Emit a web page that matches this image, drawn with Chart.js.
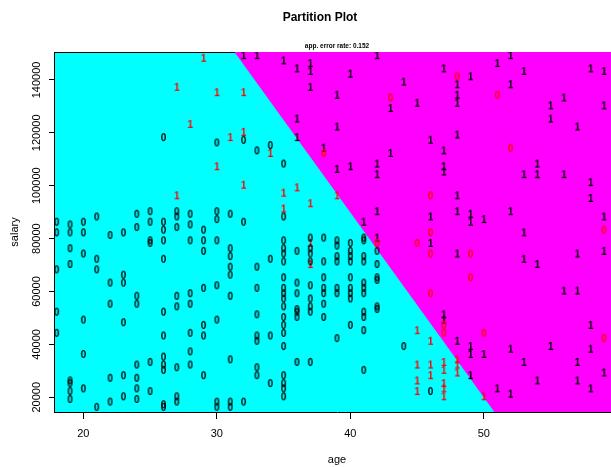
<!DOCTYPE html>
<html>
<head>
<meta charset="utf-8">
<title>Partition Plot</title>
<script src="https://cdn.jsdelivr.net/npm/chart.js@4/dist/chart.umd.min.js"></script>
<style>
html, body { margin: 0; padding: 0; background: #fff; overflow: hidden; }
canvas { display: block; }
</style>
</head>
<body>
<canvas id="myChart" width="640" height="467"></canvas>
<script>
// axis ranges and tick labels
const xMin = 17.8, xMax = 60.2;
const yMin = 14440, yMax = 150560;
const xTicks = [20, 30, 40, 50, 60];
const yTicks = [20000, 40000, 60000, 80000, 100000, 120000, 140000];

// decision boundary (age, salary); magenta side is above/right of it
const boundary = [[31.36, 150560], [50.83, 14440], [60.2, 14440]];

// class 0, correctly classified (black "0")
const zeroOk = [
    [26,118000],[30,116000],[32,117000],[33,113000],[34,115000],[35,108000],
    [18,86000],[18,82000],[18,68000],[18,52000],[18,44000],
    [19,85000],[19,82000],[19,76000],[19,70000],[19,26000],[19,25000],[19,22000],[19,19000],
    [20,86000],[20,82000],[20,74000],[20,49000],[20,36000],[20,23000],
    [21,88000],[21,72000],[21,68000],[21,16000],
    [22,81000],[22,63000],[22,55000],[22,27000],[22,18000],
    [23,82000],[23,66000],[23,63000],[23,48000],[23,28000],[23,20000],
    [24,89000],[24,84000],[24,58000],[24,55000],[24,32000],[24,27000],[24,23000],[24,19000],
    [25,90000],[25,86000],[25,79000],[25,78000],[25,33000],[25,22000],
    [26,86000],[26,83000],[26,79000],[26,72000],[26,52000],[26,43000],[26,35000],[26,32000],[26,30000],[26,17000],[26,16000],
    [27,90000],[27,88000],[27,84000],[27,58000],[27,54000],[27,31000],[27,20000],[27,18000],
    [28,89000],[28,85000],[28,79000],[28,59000],[28,55000],[28,44000],[28,37000],[28,32000],
    [29,83000],[29,79000],[29,75000],[29,61000],[29,47000],[29,43000],[29,28000],
    [30,90000],[30,87000],[30,79000],[30,62000],[30,49000],[30,18000],[30,16000],
    [31,89000],[31,76000],[31,73000],[31,69000],[31,66000],[31,58000],[31,34000],[31,18000],[31,16000],
    [32,86000],[32,18000],
    [33,69000],[33,61000],[33,51000],[33,43000],[33,41000],[33,31000],[33,28000],
    [34,72000],[34,43000],[34,25000],
    [35,88000],[35,79000],[35,76000],[35,74000],[35,71000],[35,65000],[35,61000],[35,59000],[35,57000],
    [35,54000],[35,50000],[35,47000],[35,44000],[35,39000],[35,28000],[35,25000],[35,23000],[35,20000],
    [36,75000],[36,63000],[36,59000],[36,53000],[36,52000],[36,50000],[36,33000],
    [37,80000],[37,76000],[37,74000],[37,71000],[37,62000],[37,57000],[37,54000],[37,52000],[37,33000],
    [38,80000],[38,71000],[38,65000],[38,61000],[38,59000],[38,55000],[38,50000],
    [39,79000],[39,77000],[39,73000],[39,71000],[39,61000],[39,59000],[39,42000],
    [40,78000],[40,75000],[40,73000],[40,71000],[40,65000],[40,61000],[40,59000],[40,57000],[40,47000],
    [41,80000],[41,79000],[41,73000],[41,71000],[41,63000],[41,61000],[41,59000],[41,52000],[41,50000],[41,45000],[41,30000],
    [42,75000],[42,70000],[42,65000],[42,64000],[42,54000],[42,53000],
    [44,39000],[46,22000]
];

// class 0, misclassified (red "0")
const zeroErr = [
    [48,141000],[43,133000],[51,134000],[52,114000],[38,112000],[46,96000],[46,82000],[59,83000],
    [42,78000],[45,78000],[46,74000],[49,74000],[49,65000],[46,59000],[47,47000],[47,44000],[50,44000],[59,42000]
];

// class 1, correctly classified (black "1")
const oneOk = [
    [32,149000],[33,149000],[35,147000],[36,144000],[37,146000],[37,143000],[37,137000],[36,125000],[36,118000],
    [42,149000],[52,149000],[40,142000],[47,144000],[48,138000],[49,141000],[51,146000],[53,143000],[58,144000],[59,143000],
    [44,139000],[52,138000],[39,134000],[43,129000],[45,131000],[48,134000],[48,131000],[56,133000],[55,130000],[59,130000],
    [55,125000],[57,122000],[39,122000],[48,119000],[46,117000],[43,112000],[47,113000],[38,114000],
    [39,106000],[40,107000],[42,108000],[42,104000],[47,107000],[47,105000],[54,108000],[53,104000],[54,104000],[56,104000],
    [58,101000],[58,95000],[48,96000],[42,90000],[41,86000],[46,88000],[48,90000],[49,89000],[49,86000],[50,87000],[52,90000],[59,88000],
    [53,82000],[42,80000],[46,78000],[48,74000],[53,72000],[54,70000],[57,74000],[59,75000],[56,60000],[57,60000],
    [47,51000],[47,49000],[58,47000],[48,41000],[49,39000],[49,36000],[50,36000],[52,38000],[55,39000],[58,38000],
    [53,33000],[57,33000],[59,29000],[49,28000],[51,23000],[52,21000],[54,26000],[57,26000],[58,23000]
];

// class 1, misclassified (red "1")
const oneErr = [
    [29,148000],[27,137000],[30,135000],[32,135000],[28,123000],[31,118000],[32,120000],[34,112000],[30,107000],
    [32,100000],[35,97000],[36,99000],[37,93000],[27,96000],[35,91000],[39,96000],[37,78000],[37,70000],
    [45,45000],[46,41000],[45,32000],[46,32000],[47,33000],[47,30000],[48,34000],[48,32000],[48,29000],
    [45,26000],[45,22000],[46,28000],[47,25000],[47,23000],[47,20000],[50,20000]
];

const FONT = '"Liberation Sans", Arial, sans-serif';
Chart.defaults.font.family = FONT;
Chart.defaults.color = '#000';

const toXY = arr => arr.map(p => ({x: p[0], y: p[1]}));

// text glyph used as point marker, like R's text()
function glyph(ch, color) {
    const c = document.createElement('canvas');
    c.width = 9;
    c.height = 12;
    const g = c.getContext('2d');
    g.font = 'bold 10px "Liberation Sans Narrow", "Liberation Sans", Arial, sans-serif';
    g.fillStyle = color;
    g.textAlign = 'center';
    g.textBaseline = 'middle';
    g.fillText(ch, 4.5, 6.5);
    return c;
}

// cyan = class 0 region, fills the whole plot area
const regionBg = {
    id: 'regionBg',
    beforeDraw(chart) {
        const a = chart.chartArea;
        const c = chart.ctx;
        c.save();
        c.fillStyle = '#00ffff';
        c.fillRect(a.left, a.top, a.right - a.left, a.bottom - a.top);
        c.restore();
    }
};

function pts(arr, ch, color) {
    return {
        data: toXY(arr),
        pointStyle: glyph(ch, color),
        pointRadius: 3,
        showLine: false
    };
}

const ctx = document.getElementById('myChart').getContext('2d');
const myChart = new Chart(ctx, {
    type: 'scatter',
    data: {
        datasets: [
            pts(zeroOk, '0', '#000000'),
            pts(zeroErr, '0', '#ff0000'),
            pts(oneOk, '1', '#000000'),
            pts(oneErr, '1', '#ff0000'),
            {
                data: toXY(boundary),
                showLine: true,
                fill: 'end',
                backgroundColor: '#ff00ff',
                borderColor: '#ff00ff',
                borderWidth: 1,
                pointRadius: 0,
                order: 5
            }
        ]
    },
    options: {
        responsive: false,
        animation: false,
        events: [],
        layout: { padding: 0 },
        plugins: {
            legend: { display: false },
            tooltip: { enabled: false },
            title: {
                display: true,
                text: 'Partition Plot',
                color: '#000',
                font: { size: 12, weight: 'bold' },
                padding: { top: 10, bottom: 0 }
            }
        },
        scales: {
            x: {
                type: 'linear',
                position: 'bottom',
                min: xMin,
                max: xMax,
                z: 1,
                afterBuildTicks: s => { s.ticks = xTicks.map(v => ({value: v})); },
                afterFit: s => { s.height = 55; },
                grid: { drawOnChartArea: false, tickLength: 7, color: '#000' },
                border: { display: true, color: '#000', width: 1 },
                ticks: { color: '#000', font: { size: 11 }, padding: 8.4, maxRotation: 0, callback: v => String(v) },
                title: { display: true, text: 'age', color: '#000', font: { size: 11 }, padding: { top: 0, bottom: 0.5 } }
            },
            x2: {
                type: 'linear',
                axis: 'x',
                position: 'top',
                min: xMin,
                max: xMax,
                z: 1,
                afterFit: s => { s.height = 27.6; },
                grid: { display: false, drawTicks: false },
                border: { display: true, color: '#000', width: 1 },
                ticks: { display: false },
                title: { display: true, text: 'app. error rate: 0.152', color: '#000', font: { size: 6.5, weight: 'bold' }, padding: { top: 17.7, bottom: 0 } }
            },
            y: {
                type: 'linear',
                position: 'left',
                min: yMin,
                max: yMax,
                z: 1,
                afterBuildTicks: s => { s.ticks = yTicks.map(v => ({value: v})); },
                afterFit: s => { s.width = 54; },
                grid: { drawOnChartArea: false, tickLength: 5, color: '#000' },
                border: { display: true, color: '#000', width: 1 },
                ticks: { color: '#000', font: { size: 11 }, minRotation: 90, maxRotation: 90, crossAlign: 'center', padding: -6, callback: v => String(v) },
                title: { display: true, text: 'salary', color: '#000', font: { size: 11 }, padding: { top: 8, bottom: 0 } }
            },
            // empty right margin, keeps the plot edge past the window like the cropped original
            y2: {
                type: 'linear',
                position: 'right',
                min: yMin,
                max: yMax,
                afterFit: s => { s.width = 20; },
                grid: { display: false, drawTicks: false },
                border: { display: false },
                ticks: { display: false }
            }
        }
    },
    plugins: [regionBg]
});
</script>
</body>
</html>
